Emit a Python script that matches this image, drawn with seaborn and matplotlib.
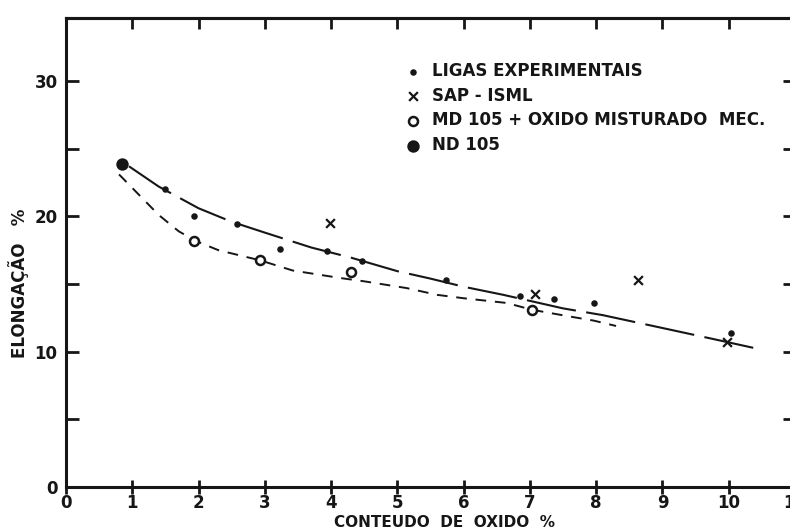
import matplotlib
matplotlib.use("Agg")
import matplotlib.pyplot as plt
import seaborn as sns

# Elongation (%) against oxide content (%)
ligas_x = [1.50, 1.93, 2.58, 3.23, 3.94, 4.46, 5.73, 6.85, 7.36, 7.96, 10.03]
ligas_y = [22.0, 20.0, 19.4, 17.6, 17.45, 16.7, 15.3, 14.1, 13.9, 13.6, 11.4]

sap_x = [3.98, 7.07, 8.63, 9.97]
sap_y = [19.5, 14.3, 15.3, 10.7]

md_mix_x = [1.93, 2.93, 4.30, 7.03]
md_mix_y = [18.2, 16.75, 15.9, 13.1]

nd_x = [0.84]
nd_y = [23.9]

# hand-fitted trend curves
upper_x = [0.95, 1.4, 2.0, 2.5, 3.0, 3.7, 4.3, 5.0, 5.5, 6.0, 6.6, 7.5, 8.1, 9.0, 9.8, 10.45]
upper_y = [23.7, 22.2, 20.6, 19.6, 18.8, 17.7, 16.95, 15.95, 15.4, 14.8, 14.2, 13.2, 12.7, 11.75, 10.9, 10.2]

lower_x = [0.8, 1.1, 1.4, 1.7, 1.95, 2.3, 2.93, 3.42, 4.13, 4.5, 5.14, 5.6, 6.0, 6.65, 7.03, 7.6, 7.96, 8.3]
lower_y = [23.1, 21.6, 20.1, 18.9, 18.2, 17.5, 16.75, 16.0, 15.45, 15.2, 14.7, 14.2, 13.95, 13.6, 13.1, 12.6, 12.3, 11.9]

legend_labels = ["LIGAS EXPERIMENTAIS", "SAP - ISML",
                 "MD 105 + OXIDO MISTURADO  MEC.", "ND 105"]

x_ticks = list(range(0, 12))
top_ticks = list(range(1, 11))
y_ticks = [0, 5, 10, 15, 20, 25, 30]
y_tick_labels = ["0", "", "10", "", "20", "", "30"]

sns.set_theme(style="white")
plt.rcParams["font.family"] = ["DejaVu Sans"]
plt.rcParams["font.weight"] = "bold"

INK = "#161616"

fig = plt.figure(figsize=(7.9, 5.31), dpi=100, facecolor="white")
ax = fig.add_axes([66 / 790, 44 / 531, (795 - 66) / 790, (513 - 44) / 531])
ax.set_facecolor("white")

# trend curves
sns.lineplot(x=upper_x, y=upper_y, ax=ax, sort=False, estimator=None,
             color=INK, lw=1.5, linestyle=(0, (24, 5)))
sns.lineplot(x=lower_x, y=lower_y, ax=ax, sort=False, estimator=None,
             color=INK, lw=1.4, linestyle=(0, (5.5, 4.5)))

# measured points
sns.scatterplot(x=ligas_x, y=ligas_y, ax=ax, marker="o", s=22, color=INK,
                edgecolor=INK, linewidth=0, label=legend_labels[0], zorder=5)
sns.scatterplot(x=sap_x, y=sap_y, ax=ax, marker="x", s=40, color=INK,
                linewidth=1.6, label=legend_labels[1], zorder=5)
sns.scatterplot(x=md_mix_x, y=md_mix_y, ax=ax, marker="o", s=42,
                facecolor="white", edgecolor=INK, linewidth=1.8,
                label=legend_labels[2], zorder=5)
sns.scatterplot(x=nd_x, y=nd_y, ax=ax, marker="o", s=80, color=INK,
                edgecolor=INK, linewidth=0, label=legend_labels[3], zorder=6)

ax.set_xlim(0, 11)
ax.set_ylim(0, 34.66)

ax.set_xticks(x_ticks)
ax.set_xticklabels([str(v) for v in x_ticks])
ax.set_yticks(y_ticks)
ax.set_yticklabels(y_tick_labels)

for side in ["left", "bottom", "top", "right"]:
    ax.spines[side].set_color(INK)
    ax.spines[side].set_linewidth(2.2)
    ax.spines[side].set_visible(True)

ax.tick_params(axis="x", which="major", direction="inout", length=10, width=2,
               color=INK, top=False, bottom=True, labelsize=12, pad=0,
               labelcolor=INK)
ax.tick_params(axis="y", which="major", direction="in", length=9, width=2,
               color=INK, left=True, right=True, labelsize=12, pad=6,
               labelcolor=INK)

top = ax.secondary_xaxis("top")
top.set_xticks(top_ticks)
top.tick_params(direction="in", length=8, width=2, color=INK, labeltop=False)
top.spines["top"].set_linewidth(2.2)
top.spines["top"].set_color(INK)

ax.set_xlabel("CONTEUDO  DE  OXIDO  %", fontsize=11, fontweight="bold", color=INK)
ax.xaxis.set_label_coords((445 - 66) / (795 - 66), -(515 - 487) / (487 - 18))
ax.set_ylabel("ELONGAÇÃO   %", fontsize=12, fontweight="bold", color=INK)
ax.yaxis.set_label_coords((29 - 66) / (795 - 66), (487 - 283) / (487 - 18))

leg = ax.legend(loc="upper left",
                bbox_to_anchor=((403 - 66) / (795 - 66), (487 - 62) / (487 - 18)),
                frameon=False, fontsize=12, handletextpad=0.55, labelspacing=0.4,
                borderpad=0, borderaxespad=0, handlelength=1.2)
for t in leg.get_texts():
    t.set_color(INK)
    t.set_fontweight("bold")

fig.savefig("out.png", dpi=100, facecolor="white")
